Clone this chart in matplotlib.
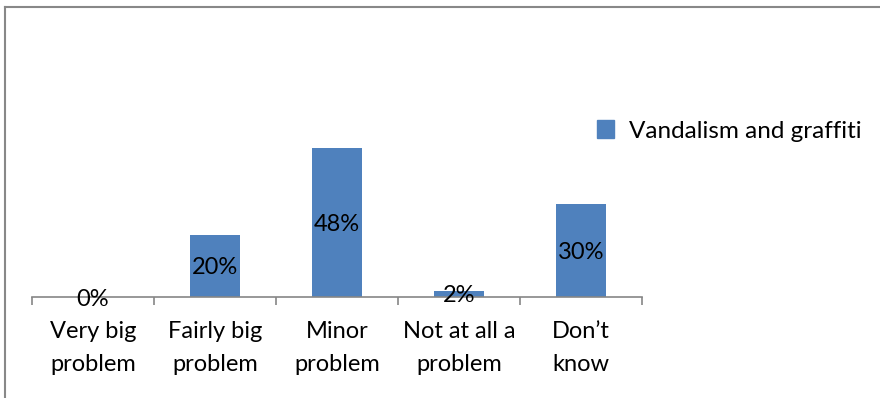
import matplotlib.pyplot as plt
import numpy as np
from matplotlib.lines import Line2D
from matplotlib.patches import Patch

plt.rcParams['font.family'] = ['Lato', 'DejaVu Sans']

# Данные
categories = ['Very big\nproblem', 'Fairly big\nproblem', 'Minor\nproblem',
              'Not at all a\nproblem', 'Don\u2019t\nknow']
values = [0, 20, 48, 2, 30]
series_name = 'Vandalism and graffiti'

bar_color = '#4F81BD'
axis_color = '#868686'
fs = 17

fig = plt.figure(figsize=(8.8, 3.98), dpi=100)
ax = fig.add_axes([32 / 880, 101 / 398, 610 / 880, 186 / 398])

x = np.arange(len(categories))
bars = ax.bar(x, values, width=0.41, color=bar_color)

for xi, v in zip(x, values):
    ax.text(xi, v / 2, f'{v}%', ha='center', va='center_baseline',
            fontsize=fs, color='black')

ax.set_xlim(-0.5, len(categories) - 0.5)
ax.set_ylim(0, 60)

for s in ['top', 'right', 'left']:
    ax.spines[s].set_visible(False)
ax.spines['bottom'].set_color(axis_color)
ax.spines['bottom'].set_linewidth(1.2)
ax.set_yticks([])

ax.set_xticks(x)
ax.set_xticklabels(categories, fontsize=fs, linespacing=1.75)
ax.tick_params(axis='x', which='major', length=0, pad=17)
ax.set_xticks(np.arange(-0.5, len(categories)), minor=True)
ax.tick_params(axis='x', which='minor', length=6, color=axis_color, width=1.2)

ax.legend(handles=[Patch(color=bar_color, label=series_name)],
          loc='center left', bbox_to_anchor=(597 / 880, 1 - 131 / 398),
          bbox_transform=fig.transFigure, frameon=False, fontsize=17.5,
          handlelength=0.7, handleheight=0.7, handletextpad=0.6,
          borderaxespad=0, borderpad=0)

# рамка (видны только верх и левый край)
fig.add_artist(Line2D([4.5 / 880, 1], [1 - 6.5 / 398, 1 - 6.5 / 398],
                      transform=fig.transFigure, color='#888888', lw=1.5))
fig.add_artist(Line2D([4.5 / 880, 4.5 / 880], [0, 1 - 6.5 / 398],
                      transform=fig.transFigure, color='#888888', lw=1.5))

fig.savefig('out.png', dpi=100)
